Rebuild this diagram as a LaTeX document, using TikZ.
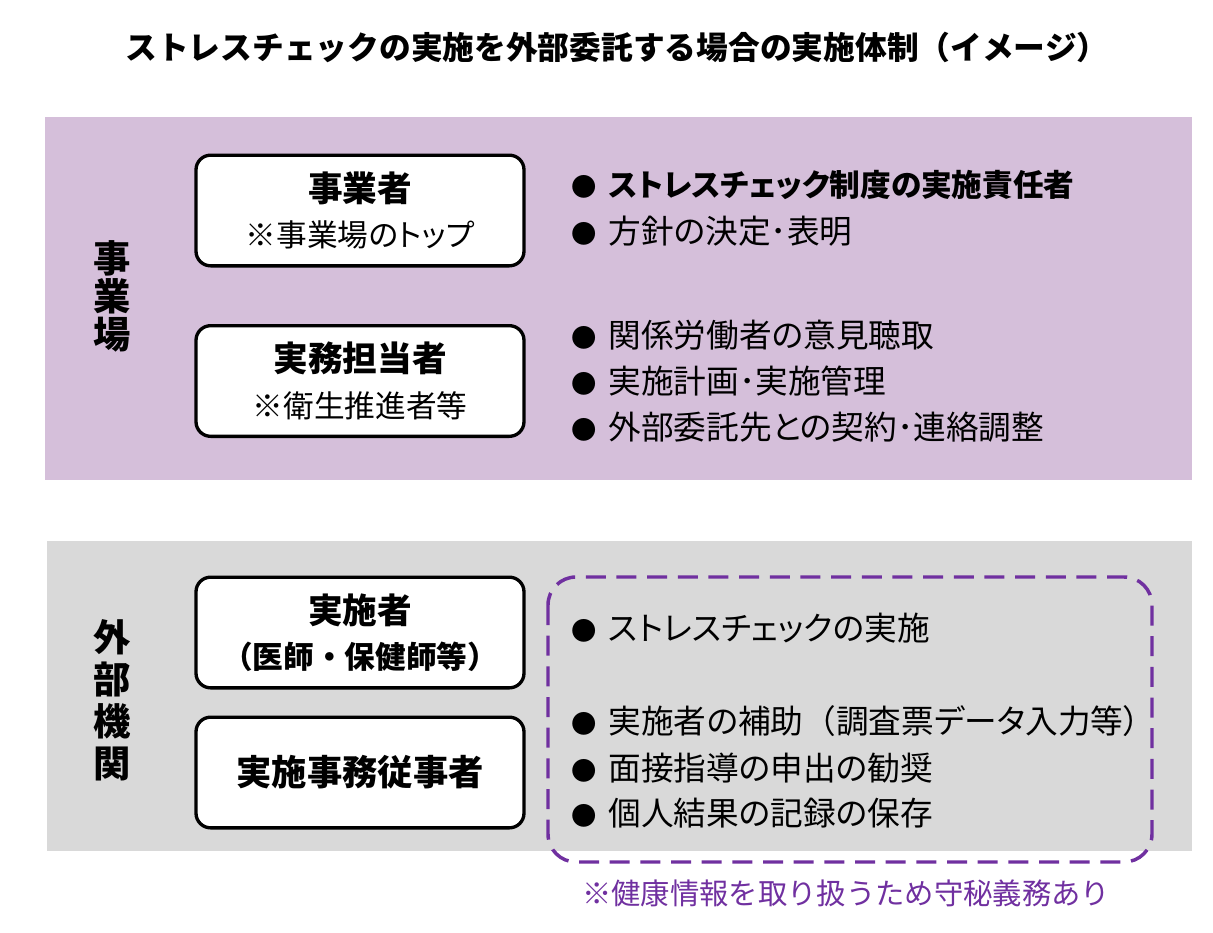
\documentclass[tikz,border=0pt]{standalone}
\usepackage{fontspec}
\setmainfont{Noto Sans CJK JP}
\newfontfamily\propjp{Noto Sans CJK JP}[RawFeature=+palt]
\definecolor{sitebg}{HTML}{D5BFDA}
\definecolor{outbg}{HTML}{D9D9D9}
\definecolor{secret}{HTML}{7030A0}
\newcommand\itemdot{{\fontsize{19}{28}\selectfont ●}\hspace{9pt}}
\tikzset{
  rolebox/.style={draw, line width=2.5pt, rounded corners=11pt, fill=white,
    minimum width=246pt, minimum height=83pt, align=center,
    font=\propjp\fontsize{23}{34}\selectfont},
  item/.style={anchor=west, inner sep=0pt, font=\propjp\fontsize{24.5}{28}\selectfont},
  side/.style={align=center, inner sep=0pt}
}
\begin{document}
\begin{tikzpicture}[x=0.75pt,y=-0.75pt]
  \useasboundingbox (0,0) rectangle (1213,932);

  \node (title) at (617,47) {\fontsize{23.8}{28}\bfseries\selectfont ストレスチェックの実施を外部委託する場合の実施体制（イメージ）};

  % panels
  \fill[sitebg] (45,117) rectangle (1192,480);
  \fill[outbg] (47,541) rectangle (1192,851);

  \node[side, font=\fontsize{28}{28.5}\bfseries\selectfont] (site) at (112,296) {事\\業\\場};
  \node[side, font=\fontsize{28}{31.5}\bfseries\selectfont] (outside) at (112,700) {外\\部\\機\\関};

  \node[rolebox] (owner) at (360,210.5) {{\fontsize{26}{34}\bfseries\selectfont 事業者}\\※事業場のトップ};
  \node[rolebox] (staff) at (360,381) {{\fontsize{26}{34}\bfseries\selectfont 実務担当者}\\※衛生推進者等};
  \node[rolebox] (doer) at (360,632.5) {{\fontsize{26}{34}\bfseries\selectfont 実施者}\\{\rmfamily\fontsize{23}{34}\bfseries\selectfont （医師・保健師等）}};
  \node[rolebox] (clerk) at (360,772.5) {\fontsize{26.5}{34}\bfseries\selectfont 実施事務従事者};

  % duties in the workplace
  \node[item] (duty1) at (571,185) {\itemdot{\fontsize{23}{28}\bfseries\selectfont ストレスチェック制度の実施責任者}};
  \node[item] (duty2) at (571,231) {\itemdot 方針の決定･表明};
  \node[item] (duty3) at (571,335) {\itemdot 関係労働者の意見聴取};
  \node[item] (duty4) at (571,381) {\itemdot 実施計画･実施管理};
  \node[item] (duty5) at (571,427) {\itemdot 外部委託先との契約･連絡調整};

  % duties of the outside body
  \draw[secret, line width=2.6pt, dash pattern=on 15pt off 8pt, rounded corners=21pt]
    (548,577) rectangle (1152,862);
  \node[item] (task1) at (571,628) {\itemdot ストレスチェックの実施};
  \node[item] (task2) at (571,721) {\itemdot 実施者の補助{\rmfamily （}調査票データ入力等）};
  \node[item] (task3) at (571,768) {\itemdot 面接指導の申出の勧奨};
  \node[item] (task4) at (571,813) {\itemdot 個人結果の記録の保存};

  \node[secret] (note) at (846,893) {\fontsize{22}{26}\selectfont ※健康情報を取り扱うため守秘義務あり};
\end{tikzpicture}
\end{document}
